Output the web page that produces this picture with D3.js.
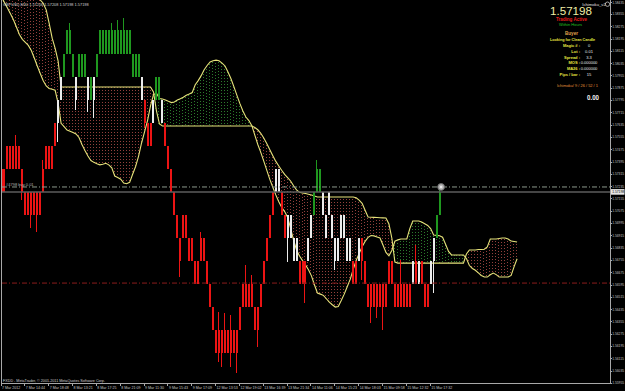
<!DOCTYPE html>
<html>
<head>
<meta charset="utf-8">
<script src="https://d3js.org/d3.v7.min.js"></script>
<style>
  body { margin: 0; background: #000; }
  svg { display: block; font-family: "Liberation Sans", Arial, sans-serif; }
</style>
</head>
<body>
<div id="chart"></div>
<script>
// ---- data (GBPUSD M30, 15 pip bars) ----
const open = [
  1.57348,1.57348,1.57498,1.57498,1.57498,1.57498,1.57498,1.57348,1.57198,1.57198,
  1.57198,1.57198,1.57198,1.57198,1.57348,1.57498,1.57498,1.57498,1.57648,1.57648,
  1.57798,1.57948,1.58098,1.58098,1.57948,1.57798,1.57948,1.57948,1.57948,1.57798,
  1.57798,1.57798,1.57948,1.58098,1.58098,1.58098,1.58098,1.58098,1.58098,1.58098,
  1.58098,1.58098,1.58098,1.58098,1.57948,1.57948,1.57948,1.57798,1.57798,1.57648,
  1.57648,1.57648,1.57798,1.57798,1.57648,1.57648,1.57498,1.57348,1.57198,1.57048,
  1.56898,1.57048,1.57048,1.56898,1.56898,1.56748,1.56748,1.56898,1.56898,1.56748,
  1.56598,1.56448,1.56298,1.56298,1.56298,1.56298,1.56298,1.56298,1.56298,1.56298,
  1.56448,1.56598,1.56598,1.56598,1.56598,1.56448,1.56448,1.56598,1.56748,1.56898,
  1.57048,1.57198,1.57198,1.57198,1.57198,1.57048,1.56898,1.56898,1.56748,1.56748,
  1.56748,1.56748,1.56748,1.56748,1.56898,1.57048,1.57198,1.57198,1.57048,1.56898,
  1.57048,1.56898,1.56748,1.56748,1.56898,1.56898,1.56748,1.56748,1.56748,1.56748,
  1.56748,1.56898,1.56748,1.56598,1.56598,1.56598,1.56598,1.56598,1.56598,1.56598,
  1.56748,1.56748,1.56598,1.56598,1.56598,1.56598,1.56598,1.56598,1.56598,1.56748,
  1.56598,1.56748,1.56598,1.56598,1.56598,1.56748,1.56898,1.57048
];
const close = [
  1.57198,1.57198,1.57348,1.57348,1.57348,1.57348,1.57348,1.57198,1.57048,1.57048,
  1.57048,1.57048,1.57048,1.57048,1.57198,1.57348,1.57348,1.57348,1.57498,1.57798,
  1.57948,1.58098,1.58248,1.58248,1.58098,1.57948,1.58098,1.58098,1.58098,1.57948,
  1.57948,1.57948,1.58098,1.58248,1.58248,1.58248,1.58248,1.58248,1.58248,1.58248,
  1.58248,1.58248,1.58248,1.58248,1.58098,1.58098,1.58098,1.57948,1.57648,1.57498,
  1.57498,1.57798,1.57948,1.57948,1.57798,1.57498,1.57348,1.57198,1.57048,1.56898,
  1.56748,1.56898,1.56898,1.56748,1.56748,1.56598,1.56598,1.56748,1.56748,1.56598,
  1.56448,1.56298,1.56148,1.56148,1.56148,1.56148,1.56148,1.56148,1.56148,1.56148,
  1.56298,1.56448,1.56448,1.56448,1.56448,1.56298,1.56298,1.56448,1.56598,1.56748,
  1.56898,1.57048,1.57348,1.57348,1.57048,1.56898,1.57048,1.57048,1.56898,1.56898,
  1.56598,1.56598,1.56598,1.56898,1.57048,1.57198,1.57348,1.57348,1.57198,1.57048,
  1.57198,1.57048,1.56898,1.56898,1.57048,1.57048,1.56898,1.56898,1.56598,1.56598,
  1.56898,1.56748,1.56598,1.56448,1.56448,1.56448,1.56448,1.56448,1.56448,1.56448,
  1.56598,1.56598,1.56448,1.56448,1.56448,1.56448,1.56448,1.56448,1.56748,1.56598,
  1.56748,1.56598,1.56448,1.56448,1.56748,1.56898,1.57048,1.57198
];
// shadows that stick out of the bodies (bar index -> price)
const wickHigh = {5: 1.57568, 14: 1.57405, 23: 1.58296, 37: 1.58296, 39: 1.58316, 41: 1.58329,
  67: 1.56937, 73: 1.56417, 75: 1.56410, 77: 1.56397, 82: 1.56722, 84: 1.56657,
  106: 1.57405, 134: 1.56755, 139: 1.56852, 147: 1.57230};
const wickLow = {0: 1.57113, 7: 1.57145, 10: 1.56963, 12: 1.56937, 19: 1.57522, 25: 1.57731,
  29: 1.57718, 31: 1.57679, 48: 1.57613, 60: 1.56644, 73: 1.56092, 74: 1.56059,
  77: 1.56059, 79: 1.56020, 86: 1.56189, 96: 1.56742, 102: 1.56475, 112: 1.56690,
  121: 1.56625, 124: 1.56345, 126: 1.56378, 128: 1.56300, 145: 1.56540};
// r = bearish, g = bullish above cloud, w = bullish inside/below cloud
const barTone = ("rrrrrrrrrr" + "rrrrrrrrrw" + "wggggwgggw" + "gwgggggggg" + "gggggggwrr" +
  "rwggwrrrrr" + "rrrrrrrrrr" + "rrrrrrrrrr" + "rrrrrrrrrr" + "rrwwrrwwww" +
  "rrrwwgggww" + "wwwwwwwwrr" + "wrrrrrrrrr" + "rrrrrrrrwr" + "wrrrwwgg").split("");

// Ichimoku senkou spans, shifted 26 bars forward (index 0..173)
const spanA = [
  1.58466,1.58429,1.58394,1.58356,1.58317,1.58270,1.58222,1.58190,1.58171,1.58151,
  1.58118,1.58069,1.58017,1.57968,1.57921,1.57887,1.57871,1.57865,1.57859,1.57774,
  1.57644,1.57622,1.57600,1.57593,1.57584,1.57575,1.57552,1.57506,1.57467,1.57431,
  1.57402,1.57390,1.57381,1.57374,1.57378,1.57384,1.57374,1.57355,1.57301,1.57292,
  1.57280,1.57255,1.57251,1.57260,1.57313,1.57363,1.57431,1.57516,1.57589,1.57662,
  1.57758,1.57831,1.57840,1.57805,1.57802,1.57796,1.57787,1.57779,1.57783,1.57796,
  1.57804,1.57814,1.57826,1.57834,1.57844,1.57895,1.57922,1.57954,1.57992,1.58020,
  1.58043,1.58051,1.58055,1.58051,1.58036,1.58017,1.57978,1.57934,1.57881,1.57826,
  1.57772,1.57724,1.57685,1.57662,1.57629,1.57567,1.57506,1.57455,1.57398,1.57340,
  1.57281,1.57230,1.57180,1.57135,1.57098,1.57070,1.57033,1.56963,1.56885,1.56820,
  1.56781,1.56751,1.56723,1.56691,1.56652,1.56594,1.56540,1.56533,1.56525,1.56503,
  1.56481,1.56464,1.56449,1.56452,1.56491,1.56533,1.56581,1.56629,1.56693,1.56752,
  1.56797,1.56841,1.56876,1.56902,1.56914,1.56912,1.56905,1.56898,1.56853,1.56804,
  1.56782,1.56819,1.56877,1.56886,1.56892,1.56892,1.56892,1.56959,1.57009,1.57009,
  1.57009,1.57002,1.56991,1.56980,1.56959,1.56917,1.56915,1.56913,1.56903,1.56858,
  1.56811,1.56788,1.56788,1.56788,1.56788,1.56788,1.56765,1.56719,1.56700,1.56688,
  1.56671,1.56654,1.56644,1.56644,1.56659,1.56670,1.56660,1.56644,1.56644,1.56644,
  1.56644,1.56655,1.56712,1.56763
];
const spanB = [
  1.58836,1.58804,1.58771,1.58739,1.58706,1.58674,1.58641,1.58609,1.58576,1.58550,
  1.58524,1.58505,1.58479,1.58446,1.58425,1.58382,1.58294,1.58198,1.58132,1.58049,
  1.57880,1.57880,1.57880,1.57880,1.57880,1.57880,1.57880,1.57880,1.57880,1.57880,
  1.57880,1.57880,1.57880,1.57880,1.57880,1.57880,1.57880,1.57880,1.57880,1.57880,
  1.57880,1.57880,1.57880,1.57880,1.57880,1.57880,1.57880,1.57880,1.57880,1.57880,
  1.57880,1.57848,1.57724,1.57640,1.57627,1.57627,1.57627,1.57627,1.57627,1.57627,
  1.57627,1.57627,1.57627,1.57627,1.57627,1.57627,1.57627,1.57627,1.57627,1.57627,
  1.57627,1.57627,1.57627,1.57627,1.57627,1.57627,1.57627,1.57627,1.57627,1.57627,
  1.57627,1.57627,1.57627,1.57627,1.57627,1.57617,1.57602,1.57579,1.57549,1.57513,
  1.57474,1.57435,1.57398,1.57368,1.57339,1.57312,1.57291,1.57269,1.57238,1.57211,
  1.57195,1.57191,1.57187,1.57183,1.57178,1.57171,1.57165,1.57165,1.57165,1.57165,
  1.57165,1.57165,1.57165,1.57165,1.57165,1.57165,1.57165,1.57165,1.57165,1.57160,
  1.57145,1.57124,1.57079,1.57035,1.57033,1.57032,1.57031,1.57030,1.57029,1.57028,
  1.56989,1.56895,1.56742,1.56735,1.56735,1.56735,1.56735,1.56735,1.56735,1.56735,
  1.56735,1.56735,1.56735,1.56735,1.56735,1.56735,1.56735,1.56735,1.56735,1.56735,
  1.56735,1.56735,1.56735,1.56735,1.56735,1.56735,1.56794,1.56820,1.56820,1.56820,
  1.56823,1.56823,1.56825,1.56840,1.56892,1.56892,1.56892,1.56895,1.56898,1.56898,
  1.56891,1.56878,1.56875,1.56872
];

const priceTicks = ["1.58435","1.58355","1.58275","1.58195","1.58115","1.58035","1.57955","1.57875",
  "1.57795","1.57715","1.57635","1.57555","1.57475","1.57395","1.57315","1.57235","1.57155",
  "1.57075","1.56995","1.56915","1.56835","1.56755","1.56675","1.56595","1.56515","1.56435",
  "1.56355","1.56275","1.56195","1.56115","1.56035","1.55955"];
const timeBars = [0, 8, 16, 24, 32, 40, 48, 56, 64, 72, 80, 88, 96, 104, 112, 120, 128, 136, 144];
const timeLabels = ["7 Mar 2012","7 Mar 14:44","7 Mar 18:48","8 Mar 13:21","8 Mar 17:25","8 Mar 21:09",
  "9 Mar 11:30","9 Mar 15:43","9 Mar 17:09","12 Mar 13:53","12 Mar 19:02","13 Mar 16:39",
  "13 Mar 21:34","14 Mar 11:06","14 Mar 15:23","14 Mar 18:03","15 Mar 09:58","15 Mar 12:32","15 Mar 17:32"];

const bidPrice = 1.57198;
const orderPrice = 1.57230;
const stopPrice = 1.56605;
const panelRows = [["Magic # :", "0"], ["Lot :", "0.01"], ["Spread :", "3.3"],
  ["MOS :", "0.000000"], ["MA26 :", "0.000000"], ["Pips / bar :", "15"]];

// ---- drawing ----
const W = 625, H = 391;
const plot = {left: 2, right: 610, top: 0, bottom: 383};

const svg = d3.select("#chart").append("svg")
  .attr("width", W).attr("height", H)
  .style("background", "#000");

const x = d3.scaleLinear().domain([0, 147]).range([1.5, 439.6]);
const y = d3.scaleLinear().domain([1.55955, 1.58435]).range([383, 1.7]);

svg.append("clipPath").attr("id", "plotclip")
  .append("rect")
    .attr("x", plot.left).attr("y", plot.top)
    .attr("width", plot.right - plot.left).attr("height", plot.bottom - plot.top);

const g = svg.append("g").attr("clip-path", "url(#plotclip)");

// cloud as dotted histogram, one line per bar
const cloud = spanA.map((a, i) => ({i: i, a: a, b: spanB[i]}));
g.append("g")
  .selectAll("line")
  .data(cloud)
  .join("line")
    .attr("x1", d => Math.round(x(d.i)) - 0.5)
    .attr("x2", d => Math.round(x(d.i)) - 0.5)
    .attr("y1", d => Math.round(Math.min(y(d.a), y(d.b))))
    .attr("y2", d => Math.max(y(d.a), y(d.b)))
    .attr("stroke", d => d.b > d.a ? "#93403c" : "#2c7a2c")
    .attr("stroke-width", 1)
    .attr("stroke-dasharray", "1,2")
    .attr("stroke-dashoffset", d => -(Math.round(Math.min(y(d.a), y(d.b))) % 3 + 3) % 3);

// span lines
const spanLine = d3.line().x((d, i) => x(i)).y(d => y(d));
[spanA, spanB].forEach(s => {
  g.append("path")
    .attr("d", spanLine(s))
    .attr("fill", "none")
    .attr("stroke", "#e6e27a")
    .attr("stroke-width", 1.1);
});

// bars
const toneColor = {r: "#ec1414", g: "#1f981f", w: "#ececec"};
const bars = open.map((o, i) => {
  const c = close[i];
  return {
    i: i, o: o, c: c,
    h: wickHigh[i] !== undefined ? wickHigh[i] : Math.max(o, c),
    l: wickLow[i] !== undefined ? wickLow[i] : Math.min(o, c),
    tone: barTone[i]
  };
});

const barG = g.append("g").attr("shape-rendering", "crispEdges");
barG.selectAll("line")
  .data(bars)
  .join("line")
    .attr("x1", d => Math.round(x(d.i)) - 0.5)
    .attr("x2", d => Math.round(x(d.i)) - 0.5)
    .attr("y1", d => y(d.h))
    .attr("y2", d => y(d.l))
    .attr("stroke", d => toneColor[d.tone]);
barG.selectAll("rect")
  .data(bars)
  .join("rect")
    .attr("x", d => Math.round(x(d.i)) - 1)
    .attr("width", 2)
    .attr("y", d => y(Math.max(d.o, d.c)))
    .attr("height", d => Math.abs(y(d.o) - y(d.c)))
    .attr("fill", d => toneColor[d.tone]);

// price lines
g.append("line")
  .attr("x1", plot.left).attr("x2", plot.right)
  .attr("y1", y(bidPrice)).attr("y2", y(bidPrice))
  .attr("stroke", "#5c5c5c").attr("stroke-width", 1.5);
g.append("line")
  .attr("x1", plot.left).attr("x2", plot.right)
  .attr("y1", y(orderPrice)).attr("y2", y(orderPrice))
  .attr("stroke", "#8c998c").attr("stroke-dasharray", "5,2,1,2");
g.append("line")
  .attr("x1", plot.left).attr("x2", plot.right)
  .attr("y1", y(stopPrice)).attr("y2", y(stopPrice))
  .attr("stroke", "#8a1c1c").attr("stroke-dasharray", "5,2,1,2");

// order arrow at the last bar
g.append("circle")
  .attr("cx", x(147) + 1.5).attr("cy", y(orderPrice))
  .attr("r", 3.4)
  .attr("fill", "#b5b5b5").attr("stroke", "#6a6a6a").attr("stroke-width", 1);
g.append("circle")
  .attr("cx", x(147) + 1.5).attr("cy", y(orderPrice))
  .attr("r", 1.3).attr("fill", "#e8e8e8");

g.append("text")
  .attr("x", 6).attr("y", y(orderPrice) - 1.3)
  .attr("font-size", 4).attr("fill", "#b4b4b4")
  .text("#4798 buy 0.01");

// frame
const frame = svg.append("g").attr("stroke", "#a8a8a8").attr("shape-rendering", "crispEdges");
frame.append("line").attr("x1", 1.5).attr("x2", 1.5).attr("y1", 0).attr("y2", plot.bottom);
frame.append("line").attr("x1", plot.right + 0.5).attr("x2", plot.right + 0.5).attr("y1", 0).attr("y2", plot.bottom + 0.5);
frame.append("line").attr("x1", 1).attr("x2", plot.right + 1).attr("y1", plot.bottom + 0.5).attr("y2", plot.bottom + 0.5);

// price axis
const pAxis = svg.append("g");
pAxis.selectAll("line")
  .data(priceTicks)
  .join("line")
    .attr("x1", plot.right).attr("x2", plot.right + 2)
    .attr("y1", d => Math.round(y(+d)) + 0.5).attr("y2", d => Math.round(y(+d)) + 0.5)
    .attr("stroke", "#a8a8a8");
pAxis.selectAll("text")
  .data(priceTicks)
  .join("text")
    .attr("x", plot.right + 2.2)
    .attr("y", d => Math.max(3.6, Math.min(y(+d) + 1.3, 384.5)))
    .attr("font-size", 3.3)
    .attr("fill", "#c6c6c6")
    .text(d => d);

// current bid label
svg.append("rect")
  .attr("x", plot.right + 1).attr("y", y(bidPrice) - 2.8)
  .attr("width", 13.5).attr("height", 5.6)
  .attr("fill", "#e6e6e6");
svg.append("text")
  .attr("x", plot.right + 2.2).attr("y", y(bidPrice) + 1.3)
  .attr("font-size", 3.3)
  .attr("fill", "#000")
  .text(bidPrice.toFixed(5));

// time axis
const tAxis = svg.append("g");
tAxis.selectAll("line")
  .data(timeBars)
  .join("line")
    .attr("x1", d => Math.round(x(d)) - 0.5).attr("x2", d => Math.round(x(d)) - 0.5)
    .attr("y1", plot.bottom).attr("y2", plot.bottom + 3)
    .attr("stroke", "#a8a8a8");
tAxis.selectAll("text")
  .data(timeBars)
  .join("text")
    .attr("x", d => x(d) + 0.5)
    .attr("y", 389)
    .attr("font-size", 3.6)
    .attr("fill", "#c6c6c6")
    .text((d, i) => timeLabels[i]);

// corner texts
svg.append("text")
  .attr("x", 3).attr("y", 5.5)
  .attr("font-size", 3.9).attr("fill", "#d0d0d0")
  .text("GBPUSD,M30  1.57206 1.57208 1.57198 1.57198");
svg.append("text")
  .attr("x", 3).attr("y", 381.5)
  .attr("font-size", 3.7).attr("fill", "#d0d0d0")
  .text("FXDD - MetaTrader, \u00a9 2001-2011 MetaQuotes Software Corp.");

// expert advisor panel
const panel = svg.append("g").attr("text-anchor", "middle");
panel.append("text").attr("x", 594).attr("y", 5.6)
  .attr("font-size", 4.2).attr("fill", "#e0e0e0").text("Ichimoku_v2");
panel.append("circle").attr("cx", 607.5).attr("cy", 4.2).attr("r", 2.2)
  .attr("fill", "none").attr("stroke", "#e0e0e0").attr("stroke-width", 0.7);
panel.append("text").attr("x", 571).attr("y", 15.3)
  .attr("font-size", 10.5).attr("textLength", 42).attr("lengthAdjust", "spacingAndGlyphs")
  .attr("fill", "#f0eea6").text("1.57198");
panel.append("text").attr("x", 571.5).attr("y", 21.3)
  .attr("font-size", 5.2).attr("font-weight", "bold").attr("textLength", 31).attr("lengthAdjust", "spacingAndGlyphs")
  .attr("fill", "#e41c1c").text("Trading Active");
panel.append("text").attr("x", 570.5).attr("y", 25.8)
  .attr("font-size", 3.5).attr("textLength", 23).attr("lengthAdjust", "spacingAndGlyphs")
  .attr("fill", "#22c422").text("Within Hours");
panel.append("text").attr("x", 571.5).attr("y", 35)
  .attr("font-size", 5.6).attr("font-weight", "bold").attr("textLength", 13).attr("lengthAdjust", "spacingAndGlyphs")
  .attr("fill", "#e2a24c").text("Buyer");
panel.append("text").attr("x", 572.5).attr("y", 40.6)
  .attr("font-size", 4).attr("font-weight", "bold").attr("textLength", 45).attr("lengthAdjust", "spacingAndGlyphs")
  .attr("fill", "#e6e640").text("Looking for Clean Candle");

const rowY = d3.scaleLinear().domain([0, panelRows.length - 1]).range([47.4, 75.6]);
panel.selectAll("text.lbl")
  .data(panelRows)
  .join("text").attr("class", "lbl")
    .attr("x", 580).attr("y", (d, i) => rowY(i))
    .attr("text-anchor", "end")
    .attr("font-size", 4).attr("font-weight", "bold")
    .attr("fill", "#e6e640")
    .text(d => d[0]);
panel.selectAll("text.val")
  .data(panelRows)
  .join("text").attr("class", "val")
    .attr("x", 589).attr("y", (d, i) => rowY(i))
    .attr("font-size", 4)
    .attr("fill", "#e8e8e8")
    .text(d => d[1]);

panel.append("text").attr("x", 577.5).attr("y", 86.6)
  .attr("font-size", 4).attr("textLength", 41).attr("lengthAdjust", "spacingAndGlyphs")
  .attr("fill", "#e6963a").text("Ichimoku/ 9 / 26 / 52 / 1");
panel.append("text").attr("x", 593).attr("y", 100.3)
  .attr("font-size", 7.5).attr("font-weight", "bold").attr("textLength", 12).attr("lengthAdjust", "spacingAndGlyphs")
  .attr("fill", "#f2f2f2").text("0.00");
</script>
</body>
</html>
